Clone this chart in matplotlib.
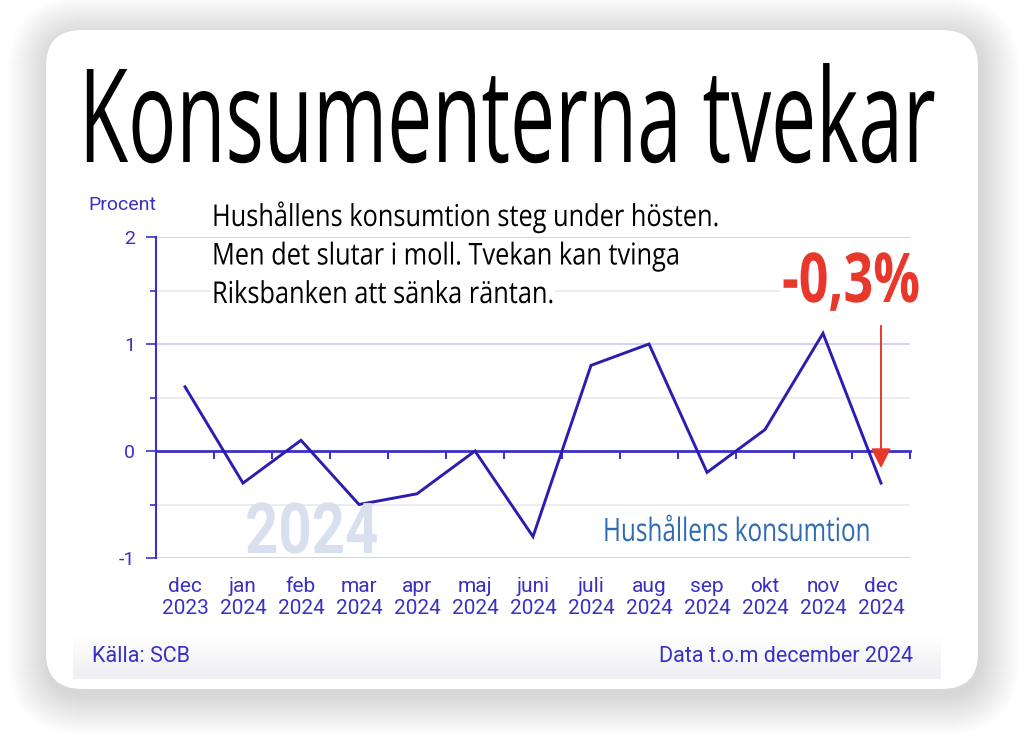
import numpy as np
import matplotlib
matplotlib.use("Agg")
import matplotlib.pyplot as plt
from matplotlib.patches import FancyBboxPatch
from matplotlib.patheffects import AbstractPathEffect
from matplotlib.transforms import Affine2D

# ---------------- data ----------------
months = ["dec", "jan", "feb", "mar", "apr", "maj", "juni", "juli",
          "aug", "sep", "okt", "nov", "dec"]
years = ["2023"] + ["2024"] * 12
values = [0.6, -0.3, 0.1, -0.5, -0.4, 0.0, -0.8, 0.8, 1.0, -0.2, 0.2, 1.1, -0.3]
y_ticks = [-1, 0, 1, 2]
y_minor = [-0.5, 0.5, 1.5]

title = "Konsumenterna tvekar"
sub_lines = ["Hushållens konsumtion steg under hösten.",
             "Men det slutar i moll. Tvekan kan tvinga",
             "Riksbanken att sänka räntan."]
big_value = "-0,3%"
series_name = "Hushållens konsumtion"
watermark = "2024"
source = "Källa: SCB"
data_note = "Data t.o.m december 2024"

# ---------------- style ----------------
BLUE_TXT = "#3b2fc4"
BLUE_LINE = "#2c1db0"
BLUE_AX = "#3b30c8"
LAV = "#cfcdf5"
GRAY = "#ebebef"
RED = "#e8382b"
W, H = 1030, 742


class VStretch(AbstractPathEffect):
    """Stretch text vertically around its baseline (narrow-font look)."""
    def __init__(self, sy):
        super().__init__()
        self.sy = sy

    def draw_path(self, renderer, gc, tpath, affine, rgbFace=None):
        renderer.draw_path(gc, tpath, Affine2D().scale(1.0, self.sy) + affine, rgbFace)


fig = plt.figure(figsize=(W / 100, H / 100), dpi=100)
fig.patch.set_facecolor("white")

# background axes in pixel units
bg = fig.add_axes([0, 0, 1, 1])
bg.set_xlim(0, W)
bg.set_ylim(H, 0)
bg.axis("off")

# soft shadow around the card
n = 40
for i in range(n, 0, -1):
    sh = FancyBboxPatch((46 - i + 2, 30 - i + 6), 932 + 2 * i, 659 + 2 * i,
                        boxstyle=f"round,pad=0,rounding_size={36 + i}",
                        fc="black", ec="none", alpha=0.0055, zorder=0)
    bg.add_patch(sh)
card = FancyBboxPatch((46, 30), 932, 659, boxstyle="round,pad=0,rounding_size=36",
                      fc="white", ec="none", zorder=1)
bg.add_patch(card)

# light band at the bottom
grad = np.linspace(1.0, 0.0, 50)[:, None]
c_top = np.array([1.0, 1.0, 1.0])
c_bot = np.array([0.935, 0.935, 0.955])
img = (grad[..., None] * c_top + (1 - grad[..., None]) * c_bot)
img = np.repeat(img, 2, axis=1)
bg.imshow(img, extent=(73, 941, 679, 635), aspect="auto", zorder=2, interpolation="bilinear")
bg.set_xlim(0, W)
bg.set_ylim(H, 0)

renderer = fig.canvas.get_renderer()

# ---------------- chart axes ----------------
ax = fig.add_axes([156 / W, 1 - 558 / H, (910 - 156) / W, (558 - 237) / H])
ax.set_facecolor("none")
ax.set_zorder(2)
x = np.arange(len(values))
ax.set_xlim(-0.5, len(values) - 0.5)
ax.set_ylim(-1, 2)

for v in y_ticks:
    if v != 0:
        ax.axhline(v, color=LAV, lw=1.3, zorder=1)
for v in y_minor:
    ax.axhline(v, color=GRAY, lw=1.3, zorder=1)

ax.plot(x, values, color=BLUE_LINE, lw=2.1, zorder=4, solid_joinstyle="miter")

for s in ["top", "right", "bottom"]:
    ax.spines[s].set_visible(False)
ax.spines["left"].set_color(BLUE_AX)
ax.spines["left"].set_linewidth(1.5)

ax.set_yticks(y_ticks)
ax.set_yticklabels([str(v) for v in y_ticks])
ax.set_yticks(y_minor, minor=True)
ax.tick_params(axis="y", which="major", length=7, width=1.2, color=BLUE_AX,
               labelcolor=BLUE_TXT, labelsize=14, pad=8)
ax.tick_params(axis="y", which="minor", length=4, width=1.2, color=BLUE_AX)
for lab in ax.get_yticklabels():
    lab.set_family("Roboto")

ax.set_xticks(x)
ax.set_xticklabels([f"{m}\n{yv}" for m, yv in zip(months, years)])
ax.tick_params(axis="x", which="major", length=0, labelcolor=BLUE_TXT,
               labelsize=15, pad=14)
for lab in ax.get_xticklabels():
    lab.set_family("Roboto")
    lab.set_linespacing(1.15)

# zero line with ticks between months
zero_frac = (0 - (-1)) / (2 - (-1))
sec = ax.secondary_xaxis(zero_frac)
sec.set_xticks(np.arange(-0.5, len(values), 1.0))
sec.set_xticklabels([])
sec.tick_params(axis="x", direction="out", length=6, width=1.4, color=BLUE_AX)
sec.spines["bottom"].set_color(BLUE_AX)
sec.spines["bottom"].set_linewidth(2.0)
sec.set_zorder(3)

# red arrow pointing at the last value
ax.annotate("", xy=(x[-1], values[-1] + 0.14), xytext=(x[-1], 1.17),
            arrowprops=dict(arrowstyle="-|>,head_length=0.6,head_width=0.3",
                            color=RED, lw=1.4, shrinkA=0, shrinkB=0,
                            mutation_scale=20), zorder=6)

# ---------------- texts on top (overlay axes in pixel units) ----------------
tx = fig.add_axes([0, 0, 1, 1])
tx.set_zorder(5)
tx.set_xlim(0, W)
tx.set_ylim(H, 0)
tx.axis("off")


def narrow(x0, y0, s, target_w, cap_px, cap_ratio, fs0, box=False, **kw):
    """Place text with left baseline at (x0, y0), width target_w, cap height cap_px."""
    t = tx.text(x0, y0, s, ha="left", va="baseline", fontsize=fs0, zorder=5, **kw)
    w = t.get_window_extent(renderer).width
    fs = fs0 * target_w / w
    t.set_fontsize(fs)
    cap_nat = cap_ratio * fs * 100 / 72
    t.set_path_effects([VStretch(cap_px / cap_nat)])
    if box:
        t.set_bbox(dict(fc="white", ec="none", pad=1.5))
    return t


narrow(79, 162, title, 856, 93, 0.714, 60, family="Open Sans", color="black")

t0 = tx.text(0, 0, sub_lines[0], fontsize=20, family="Open Sans")
w0 = t0.get_window_extent(renderer).width
t0.remove()
fs_sub = 20 * 506 / w0
sy_sub = 21.5 / (0.714 * fs_sub * 100 / 72)
for k, line in enumerate(sub_lines):
    t = tx.text(212, 226 + 38.5 * k, line, ha="left", va="baseline", fontsize=fs_sub,
                family="Open Sans", color="black", zorder=5)
    t.set_path_effects([VStretch(sy_sub)])
    t.set_bbox(dict(fc="white", ec="none", pad=1.0))

narrow(782, 302, big_value, 138, 49, 0.714, 40, box=True, family="Open Sans",
       fontweight="bold", color=RED)
narrow(603, 541, series_name, 267, 23, 0.714, 20, family="Open Sans", color="#2e6bb5")
narrow(245, 553, watermark, 133, 50, 0.711, 40, family="Roboto", fontweight="bold",
       color="#d8e0f0").set_zorder(1)

tx.text(88, 210, "Procent", ha="left", va="baseline", fontsize=14, family="Roboto",
        color=BLUE_TXT, zorder=5)
tx.text(92, 662, source, ha="left", va="baseline", fontsize=15.5, family="Roboto",
        color=BLUE_TXT, zorder=5)
tx.text(913, 662, data_note, ha="right", va="baseline", fontsize=15.5, family="Roboto",
        color=BLUE_TXT, zorder=5)

fig.savefig("out.png", dpi=100)
